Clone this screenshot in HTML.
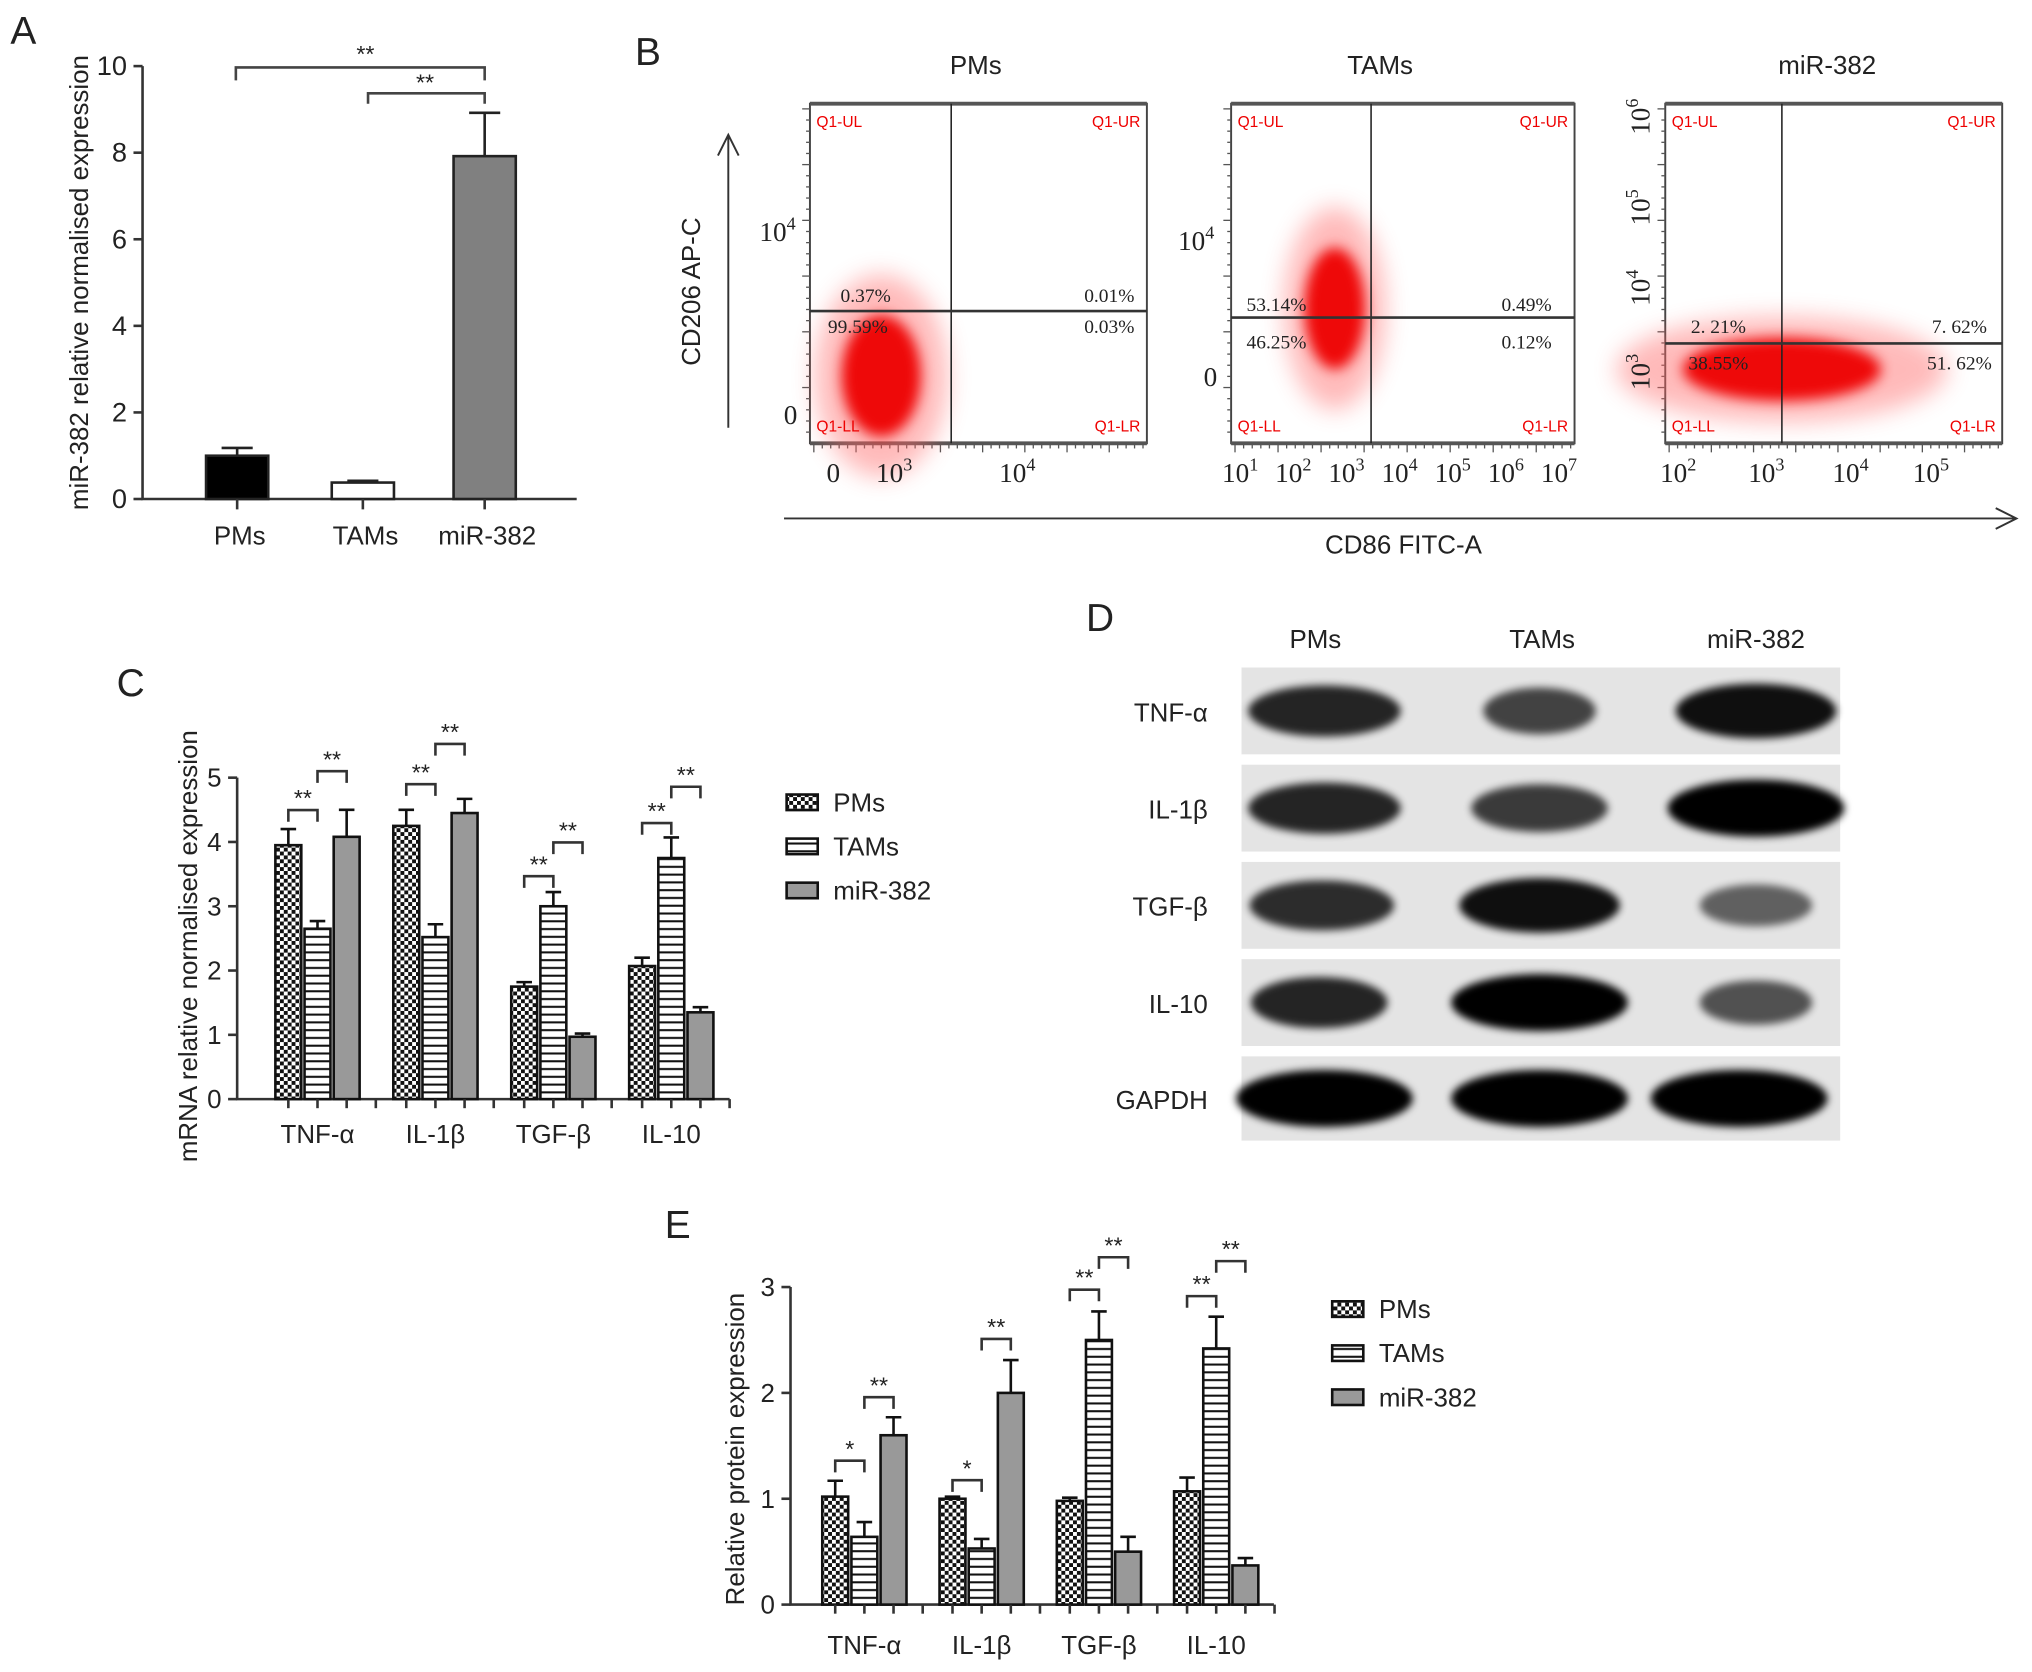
<!DOCTYPE html>
<html><head><meta charset="utf-8"><style>
html,body{margin:0;padding:0;background:#fff}
svg{display:block}
text{font-family:"Liberation Sans",sans-serif;fill:#222}
.serif{font-family:"Liberation Serif",serif}
</style></head><body>
<svg id="fig" width="2032" height="1672" viewBox="0 0 1568 1290" preserveAspectRatio="none" xmlns="http://www.w3.org/2000/svg">
<defs>
<pattern id="chk" width="6" height="6" patternUnits="userSpaceOnUse"><rect width="6" height="6" fill="#111"/><rect x="0" y="0" width="3" height="3" fill="#fff"/><rect x="3" y="3" width="3" height="3" fill="#fff"/></pattern>
<pattern id="hst" width="6" height="6" patternUnits="userSpaceOnUse"><rect width="6" height="6" fill="#fff"/><rect y="2" width="6" height="1.6" fill="#111"/></pattern>
<filter id="blur8" x="-50%" y="-50%" width="200%" height="200%"><feGaussianBlur stdDeviation="9"/></filter>
<filter id="blur5" x="-50%" y="-50%" width="200%" height="200%"><feGaussianBlur stdDeviation="5"/></filter>
<filter id="blur3" x="-50%" y="-50%" width="200%" height="200%"><feGaussianBlur stdDeviation="3"/></filter>
</defs>
<g id="root"></g>
</svg>
<script>
// Panel A data
const aCats = ["PMs","TAMs","miR-382"];
const aVals = [1.0, 0.38, 7.92];
const aErr = [0.18, 0.04, 1.0];
const aTicks = [0,2,4,6,8,10];
// Panel C data
const cCats = ["TNF-\u03b1","IL-1\u03b2","TGF-\u03b2","IL-10"];
const cPMs = [3.95, 4.25, 1.75, 2.07];
const cTAMs = [2.65, 2.52, 3.0, 3.75];
const cMiR = [4.08, 4.45, 0.97, 1.35];
const cPMsErr = [0.25, 0.25, 0.07, 0.13];
const cTAMsErr = [0.12, 0.2, 0.22, 0.32];
const cMiRErr = [0.42, 0.22, 0.05, 0.08];
const cTicks = [0,1,2,3,4,5];
// Panel E data
const eCats = ["TNF-\u03b1","IL-1\u03b2","TGF-\u03b2","IL-10"];
const ePMs = [1.02, 1.0, 0.98, 1.07];
const eTAMs = [0.64, 0.53, 2.5, 2.42];
const eMiR = [1.6, 2.0, 0.5, 0.37];
const ePMsErr = [0.15, 0.02, 0.03, 0.13];
const eTAMsErr = [0.14, 0.09, 0.27, 0.3];
const eMiRErr = [0.17, 0.31, 0.14, 0.07];
const eTicks = [0,1,2,3];
const eSig1 = ["*","*","**","**"];
const eSig2 = ["**","**","**","**"];

const NS="http://www.w3.org/2000/svg";
const root=document.getElementById('root');
function el(tag,attrs,parent,txt){const e=document.createElementNS(NS,tag);for(const k in attrs)e.setAttribute(k,attrs[k]);if(txt!==undefined)e.textContent=txt;(parent||root).appendChild(e);return e;}
function grp(name){const g=el('g',{});


return g;}

// ---------- Panel A ----------
(function(){
const g=grp('panel-a');
const t=el('text',{x:8,y:34,'font-size':30},g,'A');


const x0=110,xEnd=445,yBase=385,yTop=51,max=10;
const Y=v=>yBase-(v/max)*(yBase-yTop);
const ax=el('path',{d:`M${x0} ${yTop} V${yBase} H${xEnd}`,stroke:'#333','stroke-width':2,fill:'none'},g);


aTicks.forEach(v=>{el('line',{x1:x0-7,x2:x0,y1:Y(v),y2:Y(v),stroke:'#333','stroke-width':2},g);
const tl=el('text',{x:x0-12,y:Y(v)+7,'font-size':21,'text-anchor':'end'},g,String(v));

});
const cx=[183,280,374], fills=['#000','#fff','#808080'];
aCats.forEach((c,i)=>{const b=el('rect',{x:cx[i]-24,y:Y(aVals[i]),width:48,height:yBase-Y(aVals[i]),fill:fills[i],stroke:'#222','stroke-width':2},g);


el('path',{d:`M${cx[i]} ${Y(aVals[i])} V${Y(aVals[i]+aErr[i])} M${cx[i]-12} ${Y(aVals[i]+aErr[i])} H${cx[i]+12}`,stroke:'#222','stroke-width':2},g);
el('line',{x1:cx[i],x2:cx[i],y1:yBase,y2:yBase+8,stroke:'#333','stroke-width':2},g);
const lb=el('text',{x:cx[i]+2,y:420,'font-size':20,'text-anchor':'middle'},g,c);

});
el('path',{d:'M182 62 V52 H374 V62 M284 80 V72 H374 V80',stroke:'#444','stroke-width':2,fill:'none'},g);
el('text',{x:282,y:48,'font-size':18,'text-anchor':'middle'},g,'**');
el('text',{x:328,y:70,'font-size':18,'text-anchor':'middle'},g,'**');
const yl=el('text',{x:0,y:0,'font-size':20,'text-anchor':'middle',transform:'translate(68,218) rotate(-90)'},g,'miR-382 relative normalised expression');


})();

// ---------- Panel B ----------
(function(){
const g=grp('panel-b');
el('text',{x:490,y:50,'font-size':30},g,'B');
el('path',{d:'M562 330 V105 M554 120 L562 104 L570 120',stroke:'#333','stroke-width':1.5,fill:'none'},g);
el('text',{x:0,y:0,'font-size':20,'text-anchor':'middle',transform:'translate(540,225) rotate(-90)'},g,'CD206 AP-C');
el('path',{d:'M605 400 H1555 M1540 392 L1556 400 L1540 408',stroke:'#333','stroke-width':1.5,fill:'none'},g);
el('text',{x:1083,y:427,'font-size':20,'text-anchor':'middle'},g,'CD86 FITC-A');
const plots=[
 {t:'PMs',tx:753,x1:625,x2:885,gx:734,gy:240,cl:[680,290,34,52],pc:[['0.37%',668,233],['0.01%',856,233],['99.59%',662,257],['0.03%',856,257]]},
 {t:'TAMs',tx:1065,x1:950,x2:1215,gx:1058,gy:245,cl:[1030,238,26,52],pc:[['53.14%',985,240],['0.49%',1178,240],['46.25%',985,269],['0.12%',1178,269]]},
 {t:'miR-382',tx:1410,x1:1285,x2:1545,gx:1375,gy:265,cl:[1375,285,85,27],pc:[['2. 21%',1326,257],['7. 62%',1512,257],['38.55%',1326,285],['51. 62%',1512,285]]}
];
plots.forEach((p,i)=>{
 const pg=el('g',{},g);
 
 
 el('text',{x:p.tx,y:57,'font-size':20,'text-anchor':'middle'},pg,p.t);
 el('rect',{x:p.x1,y:80,width:p.x2-p.x1,height:262,fill:'#fff',stroke:'#444','stroke-width':1.5},pg);
 el('line',{x1:p.x1,x2:p.x2,y1:80,y2:80,stroke:'#555','stroke-width':3},pg);
 el('line',{x1:p.x1,x2:p.x2,y1:342,y2:342,stroke:'#555','stroke-width':3},pg);
 for(let k=0;k<40;k++){const xx=p.x1+3+k*(p.x2-p.x1-6)/39;el('line',{x1:xx,x2:xx,y1:342,y2:342+(k%5==0?7:4),stroke:'#555','stroke-width':1},pg);}
 for(let k=0;k<30;k++){const yy=84+k*8.6;el('line',{x1:p.x1,x2:p.x1-(k%5==0?6:3),y1:yy,y2:yy,stroke:'#555','stroke-width':1},pg);}
 const c=p.cl;
 el('ellipse',{cx:c[0],cy:c[1],rx:c[2]*1.5,ry:c[3]*1.5,fill:'#f66',opacity:0.45,filter:'url(#blur8)'},pg);
 el('ellipse',{cx:c[0],cy:c[1],rx:c[2]*0.9,ry:c[3]*0.9,fill:'#e00',opacity:0.95,filter:'url(#blur5)'},pg);
 el('line',{x1:p.gx,x2:p.gx,y1:80,y2:342,stroke:'#222','stroke-width':1.2},pg);
 el('line',{x1:p.x1,x2:p.x2,y1:p.gy,y2:p.gy,stroke:'#333','stroke-width':2},pg);
 [['Q1-UL',p.x1+5,98,'start'],['Q1-UR',p.x2-5,98,'end'],['Q1-LL',p.x1+5,333,'start'],['Q1-LR',p.x2-5,333,'end']].forEach(q=>el('text',{x:q[1],y:q[2],'font-size':12,'text-anchor':q[3],fill:'#e00',style:'fill:#e00'},pg,q[0]));
 p.pc.forEach(q=>el('text',{x:q[1],y:q[2],'font-size':15,'text-anchor':'middle',class:'serif'},pg,q[0]));
});
function pw(x,y,e,parent,rot){const t=el('text',{x:x,y:y,'font-size':21,'text-anchor':'middle',class:'serif'},parent||g);el('tspan',{},t,'10');el('tspan',{'font-size':14,dy:-9},t,e);if(rot)t.setAttribute('transform',`rotate(-90 ${x} ${y})`);return t;}
pw(600,186,'4');el('text',{x:610,y:327,'font-size':21,'text-anchor':'middle',class:'serif'},g,'0');
el('text',{x:643,y:372,'font-size':21,'text-anchor':'middle',class:'serif'},g,'0');pw(690,372,'3');pw(785,372,'4');
pw(923,193,'4');el('text',{x:934,y:298,'font-size':21,'text-anchor':'middle',class:'serif'},g,'0');
['1','2','3','4','5','6','7'].forEach((e,k)=>pw(957+k*41,372,e));
pw(1273,90,'6',g,true);pw(1273,160,'5',g,true);pw(1273,222,'4',g,true);pw(1273,287,'3',g,true);
pw(1295,372,'2');pw(1363,372,'3');pw(1428,372,'4');pw(1490,372,'5');
})();

// ---------- grouped bar helper ----------
function grouped(opts){
 const g=grp(opts.name);
 const Y=v=>opts.yBase-(v/opts.max)*(opts.yBase-opts.yTop);
 el('path',{d:`M${opts.x0} ${opts.yTop} V${opts.yBase} H${opts.xEnd}`,stroke:'#333','stroke-width':2,fill:'none'},g);
 opts.ticks.forEach(v=>{el('line',{x1:opts.x0-7,x2:opts.x0,y1:Y(v),y2:Y(v),stroke:'#333','stroke-width':2},g);
  const tl=el('text',{x:opts.x0-12,y:Y(v)+7,'font-size':20,'text-anchor':'end'},g,String(v));
  
  });
 const series=[opts.s1,opts.s2,opts.s3], errs=[opts.e1,opts.e2,opts.e3], fills=['url(#chk)','url(#hst)','#999'], sn=['pms','tams','mir-382'];
 opts.cats.forEach((c,i)=>{
  const gc=opts.g0+i*opts.gs;
  const xs=[gc-22.5,gc,gc+22.5];
  series.forEach((s,j)=>{const v=s[i],e=errs[j][i],x=xs[j];
   const b=el('rect',{x:x-10,y:Y(v),width:20,height:opts.yBase-Y(v),fill:fills[j],stroke:'#111','stroke-width':2},g);
   
   
   el('path',{d:`M${x} ${Y(v)} V${Y(v+e)} M${x-6} ${Y(v+e)} H${x+6}`,stroke:'#111','stroke-width':2},g);
   el('line',{x1:x,x2:x,y1:opts.yBase,y2:opts.yBase+7,stroke:'#333','stroke-width':2},g);
  });
  el('line',{x1:gc+45,x2:gc+45,y1:opts.yBase,y2:opts.yBase+7,stroke:'#333','stroke-width':2},g);
  const b1=opts.br1[i], b2=opts.br2[i];
  el('path',{d:`M${xs[0]} ${b1+9} V${b1} H${xs[1]} V${b1+9} M${xs[1]} ${b2+9} V${b2} H${xs[2]} V${b2+9}`,stroke:'#333','stroke-width':2,fill:'none'},g);
  el('text',{x:(xs[0]+xs[1])/2,y:b1-3,'font-size':18,'text-anchor':'middle'},g,opts.sig1[i]);
  el('text',{x:(xs[1]+xs[2])/2,y:b2-3,'font-size':18,'text-anchor':'middle'},g,opts.sig2[i]);
  const lb=el('text',{x:gc,y:opts.labY,'font-size':20,'text-anchor':'middle'},g,c);
  
  
 });
 const yl=el('text',{x:0,y:0,'font-size':20,'text-anchor':'middle',transform:`translate(${opts.ylx},${opts.yly}) rotate(-90)`},g,opts.ytitle);
 
 
 ['PMs','TAMs','miR-382'].forEach((n,j)=>{
  const lg=el('g',{},g);
  
  
  el('rect',{x:opts.lx,y:opts.ly+j*opts.lsp-6,width:24,height:12,fill:fills[j],stroke:'#111','stroke-width':2},lg);
  el('text',{x:opts.lx+36,y:opts.ly+j*opts.lsp+7,'font-size':20},lg,n);
 });
 return g;
}
el('text',{x:90,y:537,'font-size':30},root,'C');
grouped({name:'panel-c',x0:183,xEnd:563,yBase:848,yTop:600,max:5,ticks:cTicks,cats:cCats,s1:cPMs,s2:cTAMs,s3:cMiR,e1:cPMsErr,e2:cTAMsErr,e3:cMiRErr,g0:245,gs:91,
 br1:[625,605,676,635],br2:[595,574,650,607],sig1:['**','**','**','**'],sig2:['**','**','**','**'],labY:882,ylx:152,yly:730,ytitle:'mRNA relative normalised expression',lx:607,ly:619,lsp:34});
el('text',{x:513,y:955,'font-size':30},root,'E');
grouped({name:'panel-e',x0:610,xEnd:983,yBase:1238,yTop:993,max:3,ticks:eTicks,cats:eCats,s1:ePMs,s2:eTAMs,s3:eMiR,e1:ePMsErr,e2:eTAMsErr,e3:eMiRErr,g0:667,gs:90.5,
 br1:[1127,1142,995,1000],br2:[1078,1033,970,973],sig1:eSig1,sig2:eSig2,labY:1276,ylx:574,yly:1118,ytitle:'Relative protein expression',lx:1028,ly:1010,lsp:34});

// ---------- Panel D (western blot) ----------
(function(){
const g=grp('panel-d-western-blot');
el('text',{x:838,y:487,'font-size':30},g,'D');
[['PMs',1015],['TAMs',1190],['miR-382',1355]].forEach(h=>el('text',{x:h[1],y:500,'font-size':20,'text-anchor':'middle'},g,h[0]));
const rows=[['TNF-\u03b1',515,582,[[1022,0.75,0.95],[1188,0.55,0.7],[1355,0.9,1]]],
 ['IL-1\u03b2',590,657,[[1022,0.75,0.95],[1188,0.6,0.85],[1355,1,1.1]]],
 ['TGF-\u03b2',665,732,[[1020,0.7,0.9],[1188,0.9,1],[1355,0.35,0.7]]],
 ['IL-10',740,807,[[1018,0.75,0.85],[1188,1,1.1],[1355,0.45,0.7]]],
 ['GAPDH',815,880,[[1022,1,1.1],[1188,1,1.1],[1342,1,1.1]]]];
rows.forEach(r=>{
 const rg=el('g',{},g);
 
 
 el('text',{x:932,y:(r[1]+r[2])/2+8,'font-size':20,'text-anchor':'end'},rg,r[0]);
 el('rect',{x:958,y:r[1],width:462,height:r[2]-r[1],fill:'#e4e4e4'},rg);
 const cy=(r[1]+r[2])/2;
 r[3].forEach(b=>{el('ellipse',{cx:b[0],cy:cy,rx:62*b[2],ry:13+9*b[1],fill:'#000',opacity:0.35+0.65*b[1],filter:'url(#blur3)'},rg);});
});
})();
</script>
</body></html>
